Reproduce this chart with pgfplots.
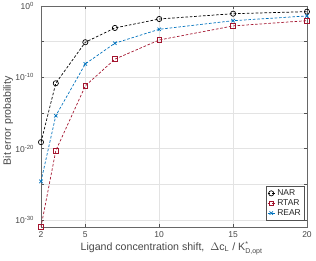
\documentclass[border=0pt]{standalone}
\usepackage{fontspec}
\setmainfont{Liberation Sans}
\usepackage{pgfplots}
\pgfplotsset{compat=1.18}
\definecolor{matred}{rgb}{0.64,0.08,0.18}
\definecolor{matblue}{rgb}{0,0.447,0.741}
\definecolor{axgray}{rgb}{0.15,0.15,0.15}
\begin{document}
\begin{tikzpicture}
\useasboundingbox (-41pt,-34pt) rectangle (275pt,227pt);
\begin{axis}[
  scale only axis,
  width=266pt, height=221pt,
  at={(0,0)}, anchor=south west,
  xmode=linear, ymode=log,
  xmin=2, xmax=20, ymin=1e-31, ymax=1,
  xtick={2,5,10,15,20},
  xticklabels={2,5,10,15,20},
  ytick={1e-30,1e-25,1e-20,1e-15,1e-10,1e-5,1},
  yticklabels={10\textsuperscript{-30},{},10\textsuperscript{-20},{},10\textsuperscript{-10},{},10\textsuperscript{0}},
  tick align=inside,
  major tick length=3pt,
  tick style={axgray!80, line width=0.4pt},
  axis line style={axgray!70, line width=0.5pt},
  grid=major,
  major grid style={gray!22, line width=0.4pt},
  ticklabel style={font=\fontsize{8.5}{9}\selectfont, text=axgray!85},
  xticklabel style={yshift=-1.5pt},
  yticklabel style={xshift=-3.5pt},
  xlabel={Ligand concentration shift,\ \ $\Delta$c\textsubscript{L} / K\rlap{\raisebox{4pt}{\fontsize{7}{7}\selectfont *}}\raisebox{-3pt}{\fontsize{7}{7}\selectfont D,opt}},
  ylabel={Bit error probability},
  label style={font=\fontsize{10.6}{12}\selectfont, text=axgray!85},
  xlabel style={at={(axis description cs:0.49,-0.095)}, anchor=center},
  ylabel style={at={(axis description cs:-0.124,0.48)}, anchor=center},
  legend style={at={(rel axis cs:0.989,0.032)}, anchor=south east,
    font=\fontsize{8.5}{9}\selectfont, draw=axgray!80, line width=0.4pt,
    inner sep=1pt, row sep=-1.5pt, text=axgray},
  legend cell align=left,
  legend image code/.code={\draw[mark repeat=2,mark phase=2] plot coordinates {(0cm,0cm) (0.13cm,0cm) (0.26cm,0cm)};},
  every axis plot/.append style={line width=0.7pt, dash pattern=on 2.6pt off 1.8pt},
]
\addplot[black, mark=o, mark size=2.6pt, mark options={solid, line width=0.7pt}] coordinates {
(2,7.9e-20) (3,1.45e-11) (5,8.3e-6) (7,8.3e-4) (10,1.5e-2) (15,8.3e-2) (20,1.6e-1)};
\addlegendentry{NAR}
\addplot[matred, mark=square, mark size=2.3pt, mark options={solid, line width=0.7pt}] coordinates {
(2,1e-31) (3,5e-21) (5,6.3e-12) (7,3.5e-8) (10,1.7e-5) (15,1.6e-3) (20,8.7e-3)};
\addlegendentry{RTAR}
\addplot[matblue, mark=x, mark size=2.4pt, mark options={solid, line width=0.7pt}] coordinates {
(2,2.5e-25) (3,4e-16) (5,7.6e-9) (7,6e-6) (10,5.4e-4) (15,8.7e-3) (20,4e-2)};
\addlegendentry{REAR}
\end{axis}
\end{tikzpicture}
\end{document}
